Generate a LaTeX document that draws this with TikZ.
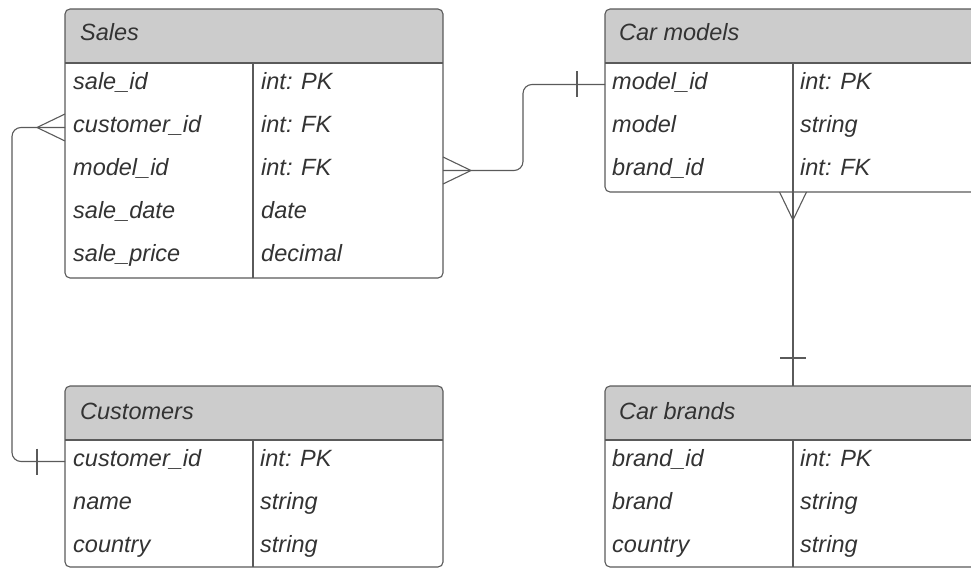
\documentclass[tikz,border=0pt]{standalone}
\usepackage{fontspec}
\setmainfont{Liberation Sans}
\usetikzlibrary{positioning}

\definecolor{linegray}{HTML}{5A5A5A}
\definecolor{hdrgray}{HTML}{CCCCCC}
\definecolor{txtgray}{HTML}{333333}

\tikzset{
  tbl/.style={draw=linegray, line width=1.1pt, fill=white, rounded corners=5pt,
    inner sep=0pt, outer sep=0pt, anchor=north west,
    path picture={
      \fill[hdrgray, sharp corners] (path picture bounding box.north west)
        rectangle ([yshift=-54pt]path picture bounding box.north east);
      \draw[linegray, line width=1.1pt, sharp corners]
        ([yshift=-54pt]path picture bounding box.north west)
        -- ([yshift=-54pt]path picture bounding box.north east);
      \draw[linegray, line width=1.1pt, sharp corners]
        ([xshift=188pt,yshift=-54pt]path picture bounding box.north west)
        -- ([xshift=188pt]path picture bounding box.south west);}},
  ttl/.style={anchor=base west, inner sep=0pt, text=txtgray,
    font=\fontsize{23.5}{28}\selectfont\itshape},
  fld/.style={anchor=west, inner sep=0pt, text height=16pt, text depth=6pt,
    text=txtgray, font=\fontsize{23.5}{28}\selectfont\itshape},
  rel/.style={draw=linegray, line width=1.1pt},
}

\begin{document}
\begin{tikzpicture}[x=1pt, y=-1pt]
\clip (0,0) rectangle (971,569);

% tables
\node[tbl, minimum width=378pt, minimum height=269pt] (sales) at (65,9) {};
\node[tbl, minimum width=378pt, minimum height=181pt] (customers) at (65,386) {};
\node[tbl, minimum width=400pt, minimum height=183pt] (models) at (605,9) {};
\node[tbl, minimum width=400pt, minimum height=181pt] (brands) at (605,386) {};

% Sales
\node[ttl] (sales-t) at (80,41) {Sales};
\node[fld] (s-saleid) at (73,84.5) {sale\_id};
\node[fld] (s-custid) at (73,127.5) {customer\_id};
\node[fld] (s-modelid) at (73,170.5) {model\_id};
\node[fld] (s-date) at (73,213.5) {sale\_date};
\node[fld] (s-price) at (73,256.5) {sale\_price};
\node[fld] (s-saleid-ty) at (261,84.5) {int: PK};
\node[fld] (s-custid-ty) at (261,127.5) {int: FK};
\node[fld] (s-modelid-ty) at (261,170.5) {int: FK};
\node[fld] (s-date-ty) at (261,213.5) {date};
\node[fld] (s-price-ty) at (261,256.5) {decimal};

% Customers
\node[ttl] (customers-t) at (80,419) {Customers};
\node[fld] (c-custid) at (73,461.5) {customer\_id};
\node[fld] (c-name) at (73,504.5) {name};
\node[fld] (c-country) at (73,547.5) {country};
\node[fld] (c-custid-ty) at (260,461.5) {int: PK};
\node[fld] (c-name-ty) at (260,504.5) {string};
\node[fld] (c-country-ty) at (260,547.5) {string};

% Car models
\node[ttl] (models-t) at (619,41) {Car models};
\node[fld] (m-modelid) at (612,84.5) {model\_id};
\node[fld] (m-model) at (612,127.5) {model};
\node[fld] (m-brandid) at (612,170.5) {brand\_id};
\node[fld] (m-modelid-ty) at (800,84.5) {int: PK};
\node[fld] (m-model-ty) at (800,127.5) {string};
\node[fld] (m-brandid-ty) at (800,170.5) {int: FK};

% Car brands
\node[ttl] (brands-t) at (619,419) {Car brands};
\node[fld] (b-brandid) at (612,461.5) {brand\_id};
\node[fld] (b-brand) at (612,504.5) {brand};
\node[fld] (b-country) at (612,547.5) {country};
\node[fld] (b-brandid-ty) at (800,461.5) {int: PK};
\node[fld] (b-brand-ty) at (800,504.5) {string};
\node[fld] (b-country-ty) at (800,547.5) {string};

% customers -> sales
\draw[rel, rounded corners=9pt] (customers.west |- c-custid)
  -| ([xshift=-53pt]sales.west |- s-custid) -- (sales.west |- s-custid);
\draw[rel] ([xshift=-28pt]sales.west |- s-custid) -- ([yshift=13.5pt]sales.west |- s-custid);
\draw[rel] ([xshift=-28pt]sales.west |- s-custid) -- ([yshift=-13.5pt]sales.west |- s-custid);
\draw[rel] ([xshift=-28pt,yshift=13pt]customers.west |- c-custid)
  -- ([xshift=-28pt,yshift=-13pt]customers.west |- c-custid);

% sales -> car models
\draw[rel, rounded corners=9pt] (sales.east |- s-modelid)
  -| ([xshift=-82pt]models.west |- m-modelid) -- (models.west |- m-modelid);
\draw[rel] ([xshift=28pt]sales.east |- s-modelid) -- ([yshift=13.5pt]sales.east |- s-modelid);
\draw[rel] ([xshift=28pt]sales.east |- s-modelid) -- ([yshift=-13.5pt]sales.east |- s-modelid);
\draw[rel] ([xshift=-28pt,yshift=13pt]models.west |- m-modelid)
  -- ([xshift=-28pt,yshift=-13pt]models.west |- m-modelid);

% car brands -> car models
\draw[rel] ([xshift=188pt]models.south west) -- ([xshift=188pt]brands.north west);
\draw[rel] ([xshift=188pt,yshift=-28pt]models.south west) -- ([xshift=174.5pt]models.south west);
\draw[rel] ([xshift=188pt,yshift=-28pt]models.south west) -- ([xshift=201.5pt]models.south west);
\draw[rel] ([xshift=175pt,yshift=28pt]brands.north west) -- ([xshift=201pt,yshift=28pt]brands.north west);
\end{tikzpicture}
\end{document}
